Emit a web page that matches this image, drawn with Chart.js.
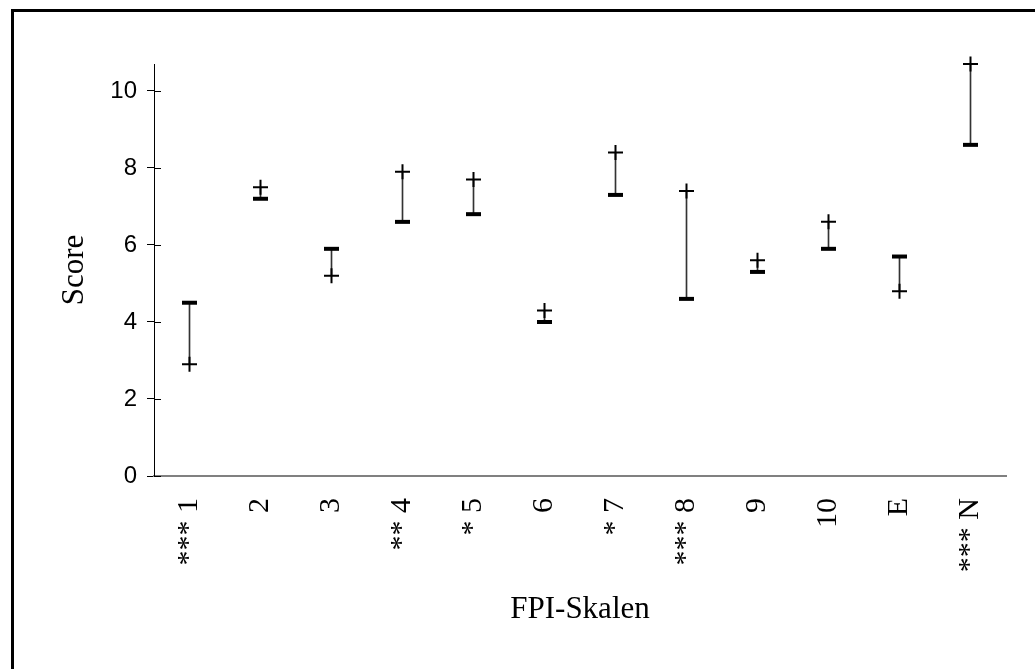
<!DOCTYPE html>
<html>
<head>
<meta charset="utf-8">
<script src="https://cdn.jsdelivr.net/npm/chart.js@4/dist/chart.umd.min.js"></script>
<style>
    html, body { margin: 0; padding: 0; background: #fff; }
    #wrap { position: relative; width: 1035px; height: 669px; overflow: hidden; }
    #frame {
        position: absolute; left: 11px; top: 9px; right: -10px; bottom: -10px;
        border-top: 3px solid #000; border-left: 3px solid #000;
        pointer-events: none;
    }
    canvas { position: absolute; left: 0; top: 0; }
</style>
</head>
<body>
<div id="wrap">
    <canvas id="scoreChart" width="1035" height="669"></canvas>
    <div id="frame"></div>
</div>
<script>
// Data
const scales = ['*** 1', '2', '3', '** 4', '* 5', '6', '* 7', '*** 8', '9', '10', 'E', '*** N'];
const plusValues = [2.9, 7.5, 5.2, 7.9, 7.7, 4.3, 8.4, 7.4, 5.6, 6.6, 4.8, 10.7];
const dashValues = [4.5, 7.2, 5.9, 6.6, 6.8, 4.0, 7.3, 4.6, 5.3, 5.9, 5.7, 8.6];
const yTicks = [0, 2, 4, 6, 8, 10];
const yMax = 10.7;

const serif = "'Liberation Serif', 'Times New Roman', serif";
const sans = "'Liberation Sans', Arial, sans-serif";

// Small ticks on the inner side of the y axis (Excel style crossing ticks)
const innerTicks = {
    id: 'innerTicks',
    afterDraw(chart) {
        const y = chart.scales.y;
        const ctx = chart.ctx;
        ctx.save();
        ctx.strokeStyle = '#000';
        ctx.lineWidth = 1;
        yTicks.forEach(v => {
            const py = Math.round(y.getPixelForValue(v)) + 0.5;
            ctx.beginPath();
            ctx.moveTo(y.right, py);
            ctx.lineTo(y.right + 7, py);
            ctx.stroke();
        });
        ctx.restore();
    }
};

const ctx = document.getElementById('scoreChart');
new Chart(ctx, {
    data: {
        labels: scales,
        datasets: [
            {
                type: 'bar',
                data: scales.map((s, i) => [plusValues[i], dashValues[i]]),
                backgroundColor: '#333',
                barThickness: 1,
                order: 3
            },
            {
                type: 'line',
                data: dashValues,
                showLine: false,
                clip: false,
                pointStyle: 'line',
                pointRadius: 7.5,
                pointBorderWidth: 4,
                borderColor: '#000',
                backgroundColor: '#000',
                order: 1
            },
            {
                type: 'line',
                data: plusValues,
                showLine: false,
                clip: false,
                pointStyle: 'cross',
                pointRadius: 7.5,
                pointBorderWidth: 2,
                borderColor: '#000',
                backgroundColor: '#000',
                order: 0
            }
        ]
    },
    options: {
        responsive: false,
        animation: false,
        events: [],
        layout: { padding: { left: 0, right: 29, top: 64, bottom: 0 } },
        plugins: { legend: { display: false }, tooltip: { enabled: false } },
        scales: {
            x: {
                offset: true,
                grid: { display: false, drawTicks: false },
                border: { color: '#808080', width: 2 },
                ticks: {
                    color: '#000',
                    minRotation: 90,
                    maxRotation: 90,
                    padding: 22,
                    autoSkip: false,
                    font: { family: serif, size: 30 }
                },
                title: {
                    display: true,
                    text: 'FPI-Skalen',
                    color: '#000',
                    font: { family: serif, size: 31 },
                    padding: { top: 0, bottom: 41 }
                },
                afterFit: s => { s.height = 193; }
            },
            y: {
                min: 0,
                max: yMax,
                grid: { drawOnChartArea: false, color: '#000', tickLength: 7 },
                border: { color: '#000', width: 1 },
                ticks: {
                    color: '#000',
                    padding: 10,
                    font: { family: sans, size: 24 }
                },
                afterBuildTicks: s => { s.ticks = yTicks.map(v => ({ value: v })); },
                title: {
                    display: true,
                    text: 'Score',
                    color: '#000',
                    font: { family: serif, size: 31 },
                    padding: { top: 56, bottom: 0 }
                },
                afterFit: s => { s.width = 154; }
            }
        }
    },
    plugins: [innerTicks]
});
</script>
</body>
</html>
